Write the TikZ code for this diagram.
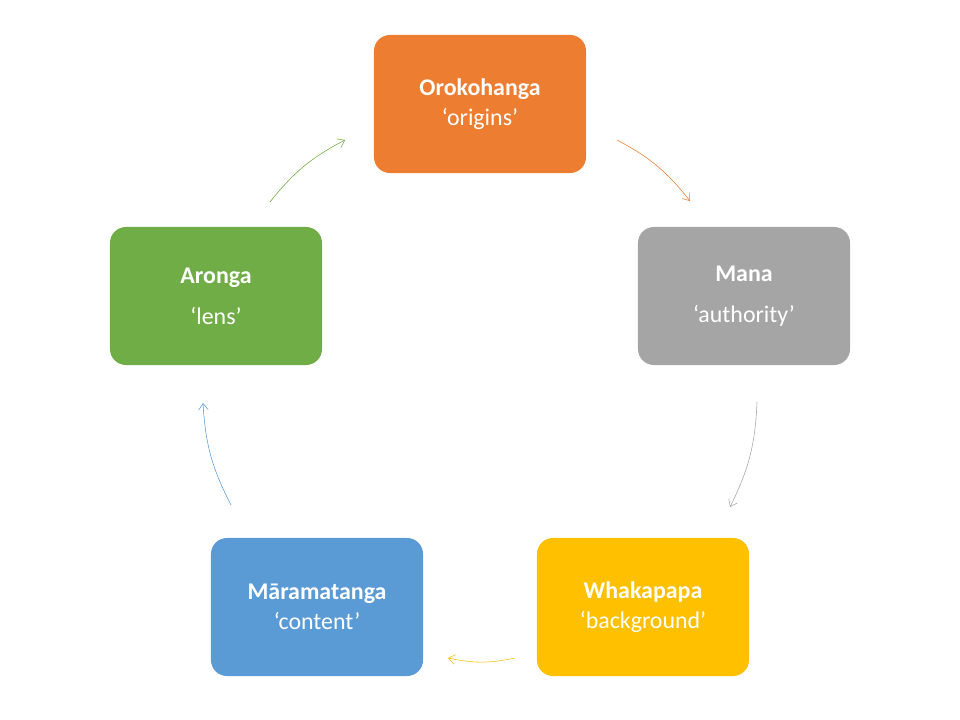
\documentclass[tikz,border=0pt]{standalone}
\usepackage{fontspec}
\setmainfont{Carlito}
\usetikzlibrary{arrows.meta}
\definecolor{myorange}{RGB}{237,125,49}
\definecolor{mygray}{RGB}{165,165,165}
\definecolor{myyellow}{RGB}{255,192,0}
\definecolor{myblue}{RGB}{91,155,213}
\definecolor{mygreen}{RGB}{112,173,71}
\tikzset{
  stage/.style = {rectangle, rounded corners=4mm, minimum width=5.3cm, minimum height=3.45cm,
                  align=center, text=white, font=\fontsize{17}{21}\selectfont, inner sep=0pt},
  cyc/.style = {thin, -{Straight Barb[length=1.6mm,width=2.4mm]}, bend left=12}
}
\begin{document}
\begin{tikzpicture}[x=0.025cm, y=-0.025cm]
\useasboundingbox (0,0) rectangle (960,720);

\node[stage, fill=myorange] (oro) at (480,104) {\textbf{Orokohanga}\\‘origins’};
\node[stage, fill=mygray]   (mana) at (744,296) {\textbf{Mana}\\[8pt]‘authority’};
\node[stage, fill=myyellow] (wha) at (643,607) {\textbf{Whakapapa}\\‘background’};
\node[stage, fill=myblue]   (mara) at (317,607) {\textbf{Māramatanga}\\‘content’};
\node[stage, fill=mygreen]  (aro) at (216,296) {\textbf{Aronga}\\[8pt]‘lens’};

% arrow ends
\coordinate (a1) at (617,140); \coordinate (b1) at (690,201);
\coordinate (a2) at (757,402); \coordinate (b2) at (730,507);
\coordinate (a3) at (515,658); \coordinate (b3) at (448,658);
\coordinate (a4) at (231,505); \coordinate (b4) at (203,403);
\coordinate (a5) at (270,202); \coordinate (b5) at (345,140);

\draw[cyc, draw=myorange] (a1) to (b1);
\draw[cyc, draw=mygray] (a2) to (b2);
\draw[cyc, draw=myyellow] (a3) to (b3);
\draw[cyc, draw=myblue] (a4) to (b4);
\draw[cyc, draw=mygreen] (a5) to (b5);
\end{tikzpicture}
\end{document}
